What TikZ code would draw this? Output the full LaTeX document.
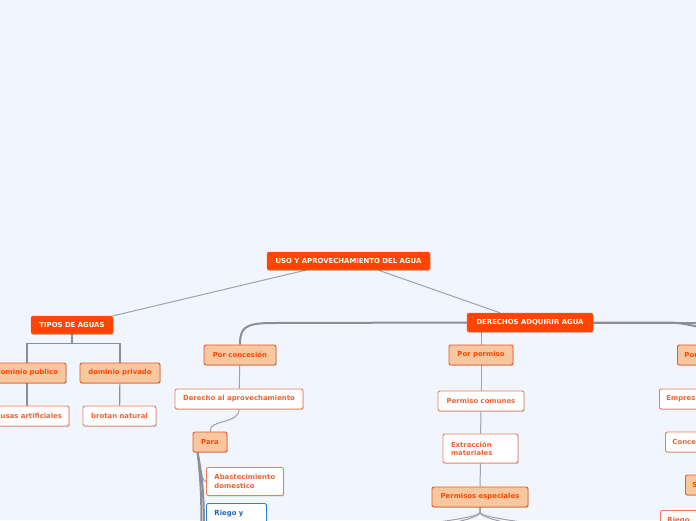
\documentclass[tikz,border=0pt]{standalone}
\usepackage{fontspec}
\setmainfont{DejaVu Sans}
\usetikzlibrary{calc,shadows,backgrounds}
\definecolor{bgblue}{HTML}{F1F5FD}
\definecolor{mainred}{HTML}{FF4500}
\definecolor{subfill}{HTML}{F7C8A0}
\definecolor{subline}{HTML}{F0561E}
\definecolor{leafline}{HTML}{F07A55}
\definecolor{leaftext}{HTML}{EE6234}
\definecolor{blueline}{HTML}{2A7FD9}
\definecolor{bluetext}{HTML}{1565C8}
\definecolor{linkgray}{HTML}{A1A1A9}
\definecolor{branchgray}{HTML}{8E8E96}

\tikzset{
  box/.style={rounded corners=2pt,font=\fontsize{6.9}{8.4}\selectfont\bfseries,
    inner xsep=7pt,inner ysep=0pt,minimum height=20pt,
    drop shadow={shadow xshift=0.7pt,shadow yshift=-0.9pt,fill=black,opacity=0.18}},
  rootbox/.style={box,fill=mainred,draw=mainred!85!white,text=white,minimum height=18pt},
  subbox/.style={box,fill=subfill,draw=subline,text=mainred,line width=0.9pt},
  leafbox/.style={box,fill=white,draw=leafline,text=leaftext,line width=0.9pt},
  bluebox/.style={box,fill=white,draw=blueline,text=bluetext,line width=0.9pt},
  link/.style={draw=linkgray,line width=1pt},
  treeline/.style={draw=branchgray,line width=1.2pt},
  branch/.style={draw=branchgray,line width=2pt},
}

\begin{document}
\begin{tikzpicture}[x=1pt,y=-1pt]
\useasboundingbox (0,0) rectangle (696,520);
\begin{scope}[on background layer]
  \fill[bgblue] (0,0) rectangle (696,520);
\end{scope}

% free ends of connectors that leave the picture
\coordinate (offr1) at (705,322.5);
\coordinate (offr2) at (705,327.5);
\coordinate (paraend1) at (201.5,528);
\coordinate (paraend2) at (204,528);
\coordinate (espl1) at (418,524);
\coordinate (espl2) at (445,524);
\coordinate (espr1) at (515,524);
\coordinate (espr2) at (542,524);

% main nodes
\node[rootbox,minimum width=163pt] (root) at (348.5,261) {USO Y APROVECHAMIENTO DEL AGUA};
\node[rootbox,minimum width=82pt] (tipos) at (72,325) {TIPOS DE AGUAS};
\node[rootbox,minimum width=126pt,minimum height=19pt] (der) at (530,322.5) {DERECHOS ADQUIRIR AGUA};

% tipos de aguas
\node[subbox,minimum width=78pt] (dpub) at (27,373) {dominio publico};
\node[subbox,minimum width=80pt] (dpriv) at (120,373) {dominio privado};
\node[leafbox,minimum width=84pt] (causas) at (27,416) {causas artificiales};
\node[leafbox,minimum width=73pt] (brotan) at (119.5,416) {brotan natural};

% por concesion
\node[subbox,minimum width=72pt] (conc) at (240,355) {Por concesión};
\node[leafbox,minimum width=128pt] (derecho) at (239,399) {Derecho al aprovechamiento};
\node[subbox,minimum width=34pt] (para) at (210,442) {Para};
\node[leafbox,anchor=north west,text width=61pt,align=left,minimum height=28pt,inner xsep=8pt]
  (abast) at (206,467) {Abastecimiento\\domestico};
\node[bluebox,anchor=north west,text width=44pt,align=left,minimum height=28pt,inner xsep=8pt]
  (riego) at (206,503) {Riego y\\\mbox{}};

% por permiso
\node[subbox,minimum width=64pt] (perm) at (481,355) {Por permiso};
\node[leafbox,minimum width=86pt] (comun) at (481,401) {Permiso comunes};
\node[leafbox,text width=59pt,align=left,minimum height=29pt,inner xsep=8pt]
  (extr) at (480.5,448.5) {Extracción\\materiales};
\node[subbox,minimum width=96pt] (esp) at (480,497) {Permisos especiales};

% right branch, cut by the edge
\node[subbox,anchor=west,text width=50pt,align=left] (porr) at (677,355) {Por};
\node[leafbox,anchor=west,text width=60pt,align=left] (empr) at (659,399) {Empres};
\node[leafbox,anchor=west,text width=60pt,align=left] (conce) at (665,442) {Conce};
\node[subbox,anchor=west,text width=40pt,align=left] (srt) at (685,485) {S};
\node[leafbox,anchor=north west,text width=60pt,align=left,minimum height=28pt]
  (riegor) at (660,510) {Riego\\\mbox{}};

% connectors
\begin{scope}[on background layer]
  \draw[link] ($(root.south)+(-43,0)$) -- (tipos.north east);
  \draw[link] ($(root.south)+(30,0)$) -- ($(der.north)+(-30,0)$);
  \draw[treeline] (tipos.south) -- ++(0,9) -| (dpub.north);
  \draw[treeline] (tipos.south) -- ++(0,9) -| (dpriv.north);
  \draw[treeline] (dpub) -- (causas);
  \draw[treeline] (dpriv) -- (brotan);
  % derechos adquirir agua
  \draw[branch] (der.west) -- ($(conc.north |- der.west)+(32,0.5)$)
    .. controls ($(conc.north |- der.west)+(4,0.5)$) and ($(conc.north)+(0,-16)$) .. (conc.north);
  \draw[branch] (der.east) -- (offr1);
  \draw[branch] (der.east) -- ++(75,0) .. controls +(15,0) and +(-12,-1) .. (offr2);
  \draw[link] (perm.north |- der.south) -- (perm.north);
  % por concesion
  \draw[link] (conc) -- (derecho);
  \draw[link] (derecho.south) .. controls +(0,15) and +(0,-13) .. (para.north);
  \draw[link] ($(para.south west)+(5,0)$) .. controls +(3,18) and +(-4,0) .. (abast.west);
  \draw[branch] ($(para.south west)+(5,0)$) .. controls +(3,25) and +(0,-30) .. (paraend1);
  \draw[branch] ($(para.south west)+(5,0)$) .. controls +(5,25) and +(0,-30) .. (paraend2);
  % por permiso
  \draw[link] (perm) -- (comun);
  \draw[link] (comun) -- (extr);
  \draw[link] (extr.south) -- (esp.north);
  \draw[link] (esp.south) -- ++(0,5) .. controls +(0,4) and +(25,-2) .. (espl1);
  \draw[link] (esp.south) -- ++(0,5) .. controls +(0,4) and +(15,-2) .. (espl2);
  \draw[link] (esp.south) -- ++(0,5) .. controls +(0,4) and +(-15,-2) .. (espr1);
  \draw[link] (esp.south) -- ++(0,5) .. controls +(0,4) and +(-25,-2) .. (espr2);
\end{scope}
\end{tikzpicture}
\end{document}
